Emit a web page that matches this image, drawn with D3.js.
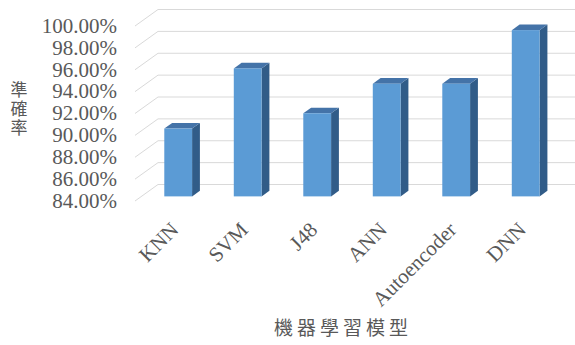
<!DOCTYPE html>
<html>
<head>
<meta charset="utf-8">
<script src="https://cdn.jsdelivr.net/npm/d3@7"></script>
<style>
  html, body { margin: 0; padding: 0; background: #fff; }
  svg { display: block; }
</style>
</head>
<body>
<svg id="chart" width="575" height="345"></svg>
<script>
// Accuracy of each machine-learning model
const models = ["KNN", "SVM", "J48", "ANN", "Autoencoder", "DNN"];
const accuracy = [90.2, 95.7, 91.6, 94.3, 94.3, 99.2];
const yTicks = [84, 86, 88, 90, 92, 94, 96, 98, 100];
const yTitle = "準確率";
const xTitle = "機器學習模型";

const svg = d3.select("#chart");

// Oblique 3D projection: front plane plus a depth vector toward the back wall
const depth = { dx: 23, dy: -16.5 };
const wallLeft = 135;
const wallRight = 575;
const barFront = 0.28, barBack = 0.62; // bar position inside the depth (0 = front, 1 = back)

const y = d3.scaleLinear().domain([84, 100]).range([201, 26]);
const x = d3.scaleBand().domain(models).range([137, 554]).paddingInner(0.6).paddingOuter(0.3);

const serif = "'Liberation Serif', 'Times New Roman', serif";
const cjk = "'Noto Sans CJK TC', 'Noto Sans CJK SC', sans-serif";
const textColor = "#595959";

// Gridlines: diagonal on the side wall, horizontal on the back wall
const grid = svg.append("g").attr("stroke", "#d9d9d9").attr("stroke-width", 1).attr("fill", "none");
yTicks.forEach(t => {
  const yf = y(t);
  grid.append("path")
    .attr("d", `M${wallLeft},${yf}L${wallLeft + depth.dx},${yf + depth.dy}L${wallRight},${yf + depth.dy}`);
});

// Bars as prisms: front, top and right side faces
const bars = svg.append("g");
models.forEach((m, i) => {
  const v = accuracy[i];
  const ox = depth.dx * barFront, oy = depth.dy * barFront;
  const bx = depth.dx * (barBack - barFront), by = depth.dy * (barBack - barFront);
  const x0 = x(m) + ox, x1 = x(m) + x.bandwidth() + ox;
  const yTop = y(v) + oy, yBot = y(84) + oy;
  const g = bars.append("g");
  // right side
  g.append("path")
    .attr("d", `M${x1},${yTop}L${x1 + bx},${yTop + by}L${x1 + bx},${yBot + by}L${x1},${yBot}Z`)
    .attr("fill", "#315c88");
  // top
  g.append("path")
    .attr("d", `M${x0},${yTop}L${x0 + bx},${yTop + by}L${x1 + bx},${yTop + by}L${x1},${yTop}Z`)
    .attr("fill", "#4473a8");
  // front
  g.append("rect")
    .attr("x", x0).attr("y", yTop)
    .attr("width", x1 - x0).attr("height", yBot - yTop)
    .attr("fill", "#5b9bd5");
});

// Value axis labels
svg.append("g").selectAll("text").data(yTicks).join("text")
  .attr("x", 117)
  .attr("y", d => y(d) + 2)
  .attr("text-anchor", "end")
  .attr("dominant-baseline", "middle")
  .attr("font-family", serif)
  .attr("font-size", 21)
  .attr("fill", textColor)
  .text(d => d.toFixed(2) + "%");

// Category labels, rotated
svg.append("g").selectAll("text").data(models).join("text")
  .attr("transform", d => `translate(${x(d) + x.bandwidth() / 2 + 8},${231}) rotate(-45)`)
  .attr("text-anchor", "end")
  .attr("font-family", serif)
  .attr("font-size", 21)
  .attr("fill", textColor)
  .text(d => d);

// Vertical axis title, written top to bottom
svg.append("text")
  .attr("x", 19)
  .attr("y", 110)
  .attr("text-anchor", "middle")
  .style("writing-mode", "vertical-rl")
  .style("text-orientation", "upright")
  .attr("font-family", cjk)
  .attr("font-size", 17)
  .attr("letter-spacing", 2)
  .attr("fill", textColor)
  .text(yTitle);

// Category axis title
svg.append("text")
  .attr("x", 343)
  .attr("y", 330)
  .attr("text-anchor", "middle")
  .attr("dominant-baseline", "middle")
  .attr("font-family", cjk)
  .attr("font-size", 19)
  .attr("letter-spacing", 4)
  .attr("fill", textColor)
  .text(xTitle);
</script>
</body>
</html>
